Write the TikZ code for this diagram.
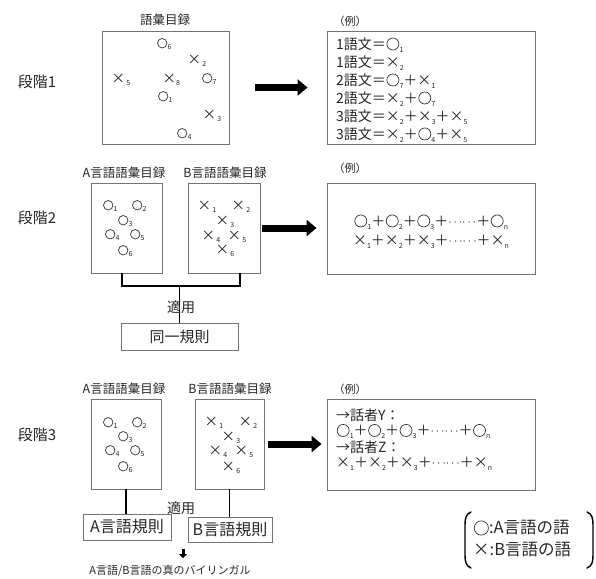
\documentclass[tikz,border=0pt]{standalone}
\usepackage{fontspec}
\setmainfont{Noto Sans CJK JP}
\usetikzlibrary{arrows.meta,shadows}
% lowered index after a word symbol
\newcommand\sbs[1]{\raisebox{-0.45ex}{\fontsize{7}{7}\selectfont #1}}
\newcommand\fsz[1]{\fontsize{#1}{#1}\selectfont}
% word symbols: open circle sized to the current font, and a cross
\newcommand\wc{\hspace{0.04em}\tikz[baseline=-0.36em]\draw[line width=0.7pt, black!80] (0,0) circle (0.43em);\hspace{0.02em}}
\newcommand\wx{{\fsz{13.5}×}}
\newcommand\dts{\raisebox{0.05em}{\fsz{11.5}$\cdots\!\cdots$}}

\begin{document}
\begin{tikzpicture}[x=1pt,y=-1pt,
  every node/.style={text=black!85},
  panel/.style={draw=black!55, line width=0.9pt, fill=white, inner sep=0pt,
    drop shadow={shadow xshift=0.8pt, shadow yshift=-0.8pt, opacity=0.3}},
  itm/.style={inner sep=0pt, anchor=base west, font=\fsz{11}},
  exline/.style={inner sep=0pt, anchor=base west, font=\fsz{14}},
  title/.style={inner sep=0pt, font=\fsz{12.5}},
  stage/.style={inner sep=0pt, font=\fsz{15}},
  conn/.style={line width=1.5pt, black},
  bigarrow/.style={line width=7pt, black, -{Triangle[length=10pt,width=16pt]}},
  smallarrow/.style={line width=3pt, black, -{Triangle[length=4pt,width=8pt]}},
  bracket/.style={line width=1.4pt, black, line cap=round}
]
\useasboundingbox (0,0) rectangle (596,578);

% ---------------- stage 1 ----------------
\node[stage] (st1) at (37,82) {段階1};
\node[panel, minimum width=127, minimum height=113] (cat1) at (165.5,87.5) {};
\node[title] (cat1t) at (165,20) {語彙目録};
\foreach \n/\x/\y/\s in {o6/162/43/\wc\sbs{6}, x2/193/60/\wx\sbs{\,2}, x5/117/79/\wx\sbs{\,5},
    x8/168/79/\wx\sbs{8}, o7/207/78/\wc\sbs{7}, o1/163/96/\wc\sbs{1}, x3/208/115/\wx\sbs{\,3},
    o4/182/133/\wc\sbs{4}}
  \node[itm] (a\n) at ({\x-5.5},{\y+4.2}) {\s};

\node[panel, minimum width=208, minimum height=113] (ex1) at (431,87.5) {};
\node[inner sep=0pt, font=\fsz{11}] (ex1t) at (350,21) {（例）};
\node[exline] (l11) at (336,49) {1語文＝\wc\sbs{1}};
\node[exline] (l12) at (336,67) {1語文＝×\sbs{2}};
\node[exline] (l13) at (336,85) {2語文＝\wc\sbs{7}＋×\sbs{1}};
\node[exline] (l14) at (336,103) {2語文＝×\sbs{2}＋\wc\sbs{7}};
\node[exline] (l15) at (336,121) {3語文＝×\sbs{2}＋×\sbs{3}＋×\sbs{5}};
\node[exline] (l16) at (336,139) {3語文＝×\sbs{2}＋\wc\sbs{4}＋×\sbs{5}};

\draw[bigarrow, shorten <=26pt, shorten >=19pt] (cat1.east) -- (ex1.west);

% ---------------- stage 2 ----------------
\node[stage] (st2) at (37,218) {段階2};
\node[panel, minimum width=71, minimum height=90] (A2) at (126.5,228) {};
\node[panel, minimum width=72, minimum height=90] (B2) at (224,228) {};
\node[title] (A2t) at (124,173) {A言語語彙目録};
\node[title] (B2t) at (225,173) {B言語語彙目録};
\foreach \i/\x/\y in {1/108/205, 2/137/205, 3/123/220, 4/110/234, 5/135/234, 6/123/250}
  \node[itm] (p2\i) at ({\x-5.5},{\y+4.2}) {\wc\sbs{\i}};
\foreach \i/\x/\y in {1/203/206, 2/237/206, 3/221/221, 4/207/236, 5/233/236, 6/221/250}
  \node[itm] (q2\i) at ({\x-5.5},{\y+4.2}) {\wx\sbs{\,\i}};

\node[panel, minimum width=117, minimum height=27] (rule2) at (179.5,336.5) {\fsz{15}同一規則};
\coordinate (j2) at (179.5,286);
\draw[conn] ([xshift=-4.5pt]A2.south) |- (j2) -| ([xshift=16pt]B2.south);
\draw[conn] (j2) -- (rule2.north);
\node[inner sep=0pt, font=\fsz{14}] (ap2) at (181,307) {適用};

\node[panel, minimum width=208, minimum height=91] (ex2) at (431,228.5) {};
\node[inner sep=0pt, font=\fsz{11}] (ex2t) at (350,168) {（例）};
\node[exline, anchor=base] (l21) at (431,226) {\wc\sbs{1}＋\wc\sbs{2}＋\wc\sbs{3}＋\dts＋\wc\sbs{n}};
\node[exline, anchor=base] (l22) at (431,245) {×\sbs{1}＋×\sbs{2}＋×\sbs{3}＋\dts＋×\sbs{n}};

\draw[bigarrow, shorten <=2pt, shorten >=10pt] (B2.east) -- (B2.east -| ex2.west);

% ---------------- stage 3 ----------------
\node[stage] (st3) at (37,435) {段階3};
\node[panel, minimum width=70, minimum height=90] (A3) at (126,444) {};
\node[panel, minimum width=69, minimum height=90] (B3) at (229.5,444) {};
\node[title] (A3t) at (124,389) {A言語語彙目録};
\node[title] (B3t) at (230,389) {B言語語彙目録};
\foreach \i/\x/\y in {1/108/422, 2/137/422, 3/123/436, 4/110/450, 5/135/450, 6/123/466}
  \node[itm] (p3\i) at ({\x-5.5},{\y+4.2}) {\wc\sbs{\i}};
\foreach \i/\x/\y in {1/210/422, 2/244/422, 3/227/437, 4/214/451, 5/240/451, 6/227/467}
  \node[itm] (q3\i) at ({\x-5.5},{\y+4.2}) {\wx\sbs{\,\i}};

\node[panel, minimum width=88, minimum height=26] (ruleA) at (127,527) {\fsz{16}A言語規則};
\node[panel, minimum width=84, minimum height=25] (ruleB) at (230,529.5) {\fsz{16}B言語規則};
\draw[conn] (A3.south) -- (A3.south |- ruleA.north);
\draw[conn] (B3.south) -- (B3.south |- ruleB.north);
\node[inner sep=0pt, font=\fsz{14}] (ap3) at (181,508) {適用};

\coordinate (d1) at (183,549);
\coordinate (d2) at (183,558);
\draw[smallarrow] (d1) -- (d2);
\node[inner sep=0pt, font=\fsz{11}] (res) at (170,571) {A言語/B言語の真のバイリンガル};

\node[panel, minimum width=208, minimum height=91] (ex3) at (431,444.5) {};
\node[inner sep=0pt, font=\fsz{11}] (ex3t) at (350,389) {（例）};
\node[exline] (l31) at (336,420) {→話者Y：};
\node[exline] (l32) at (336,435.5) {\wc\sbs{1}＋\wc\sbs{2}＋\wc\sbs{3}＋\dts＋\wc\sbs{n}};
\node[exline] (l33) at (336,452) {→話者Z：};
\node[exline] (l34) at (336,467.5) {×\sbs{1}＋×\sbs{2}＋×\sbs{3}＋\dts＋×\sbs{n}};

\draw[bigarrow, shorten <=4pt, shorten >=5pt] (B3.east) -- (B3.east -| ex3.west);

% ---------------- legend ----------------
\draw[bracket] (471,512) .. controls (466,514) and (465,518) .. (465,525)
  -- (465,555) .. controls (465,562) and (466,566) .. (471,568);
\draw[bracket] (587,512) .. controls (592,514) and (593,518) .. (593,525)
  -- (593,555) .. controls (593,562) and (592,566) .. (587,568);
\node[inner sep=0pt, anchor=west, font=\fsz{16.5}] (lg1) at (473,528) {\wc:A言語の語};
\node[inner sep=0pt, anchor=west, font=\fsz{16.5}] (lg2) at (473,550) {×:B言語の語};
\end{tikzpicture}
\end{document}
